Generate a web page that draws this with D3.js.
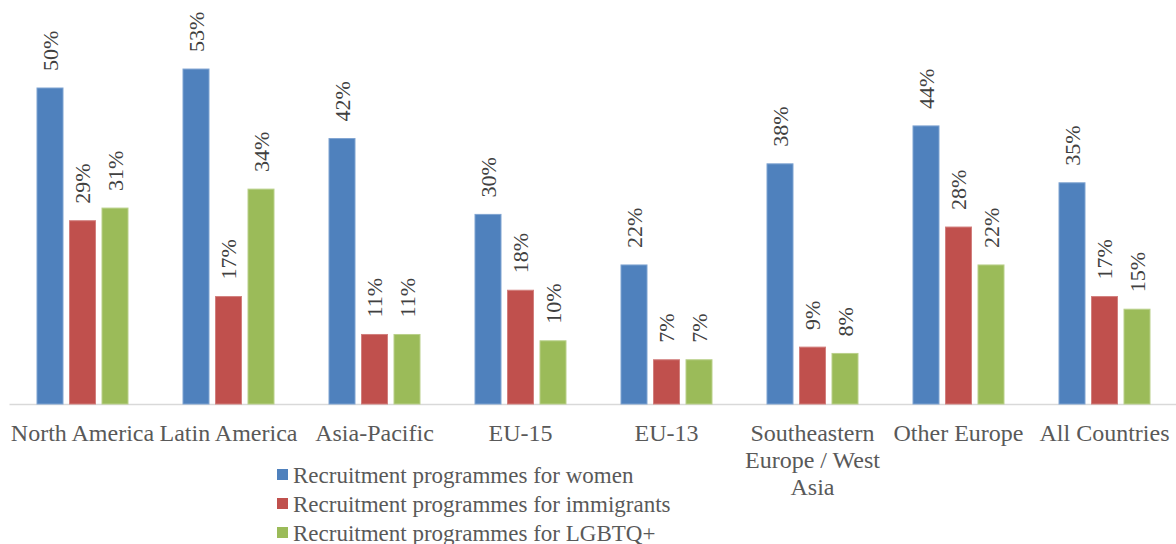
<!DOCTYPE html>
<html><head><meta charset="utf-8">
<script src="https://cdn.jsdelivr.net/npm/d3@7"></script>
</head><body style="margin:0">
<svg id="c" width="1176" height="544"></svg>
<script>
const categories = ["North America","Latin America","Asia-Pacific","EU-15","EU-13","Southeastern Europe / West Asia","Other Europe","All Countries"];
const categoryLines = [["North America"],["Latin America"],["Asia-Pacific"],["EU-15"],["EU-13"],["Southeastern","Europe / West","Asia"],["Other Europe"],["All Countries"]];
const seriesNames = ["Recruitment programmes for women","Recruitment programmes for immigrants","Recruitment programmes for LGBTQ+"];
const women = [50,53,42,30,22,38,44,35];
const immigrants = [29,17,11,18,7,9,28,17];
const lgbtq = [31,34,11,10,7,8,22,15];
const colors = ["#4F81BD","#C0504D","#9BBB59"];
const strokes = ["#7FA3D1","#D27F7D","#B9D08A"];

const series = [women, immigrants, lgbtq];
const F = '"Liberation Serif"';
const svg = d3.select("#c");
const x0 = d3.scaleBand().domain(categories).range([9.5,1177.5]).paddingInner(0).paddingOuter(0);
const x1 = d3.scaleBand().domain([0,1,2]).range([27.5,118.5]).paddingInner(0.2).paddingOuter(0);
const y = d3.scaleLinear().domain([0,60]).range([404,24.8]);

svg.append("line").attr("x1",9.5).attr("x2",1176).attr("y1",y(0)+0.5).attr("y2",y(0)+0.5)
  .attr("stroke","#d9d9d9").attr("stroke-width",1.5);

categories.forEach((c,i)=>{
  series.forEach((s,k)=>{
    const bx = x0(c)+x1(k), bw = x1.bandwidth();
    svg.append("rect").attr("x",bx).attr("y",y(s[i])).attr("width",bw).attr("height",y(0)-y(s[i]))
      .attr("fill",colors[k]).attr("stroke",strokes[k]).attr("stroke-width",1);
  });
});
categories.forEach((c,i)=>{
  series.forEach((s,k)=>{
    const bx = x0(c)+x1(k), bw = x1.bandwidth();
    const cx = bx+bw/2+7.5, ty = y(s[i])-17;
    svg.append("text").attr("transform",`translate(${cx},${ty}) rotate(-90)`)
      .style("font-family",F).style("font-size","22px").attr("fill","#404040")
      .text(s[i]+"%");
  });
});
categories.forEach((c,i)=>{
  const cx = x0(c)+x0.bandwidth()/2;
  categoryLines[i].forEach((ln,j)=>{
    svg.append("text").attr("x",cx).attr("y",441+j*27).attr("text-anchor","middle")
      .style("font-family",F).style("font-size","24px").attr("fill","#595959").text(ln);
  });
});
seriesNames.forEach((n,k)=>{
  const ry = 474.5 + k*29;
  svg.append("rect").attr("x",277).attr("y",ry-5.5).attr("width",11).attr("height",11).attr("fill",colors[k]);
  svg.append("text").attr("x",293).attr("y",ry+8).style("font-family",F).style("font-size","23px")
    .attr("fill","#595959").text(n);
});
</script>
</body></html>
